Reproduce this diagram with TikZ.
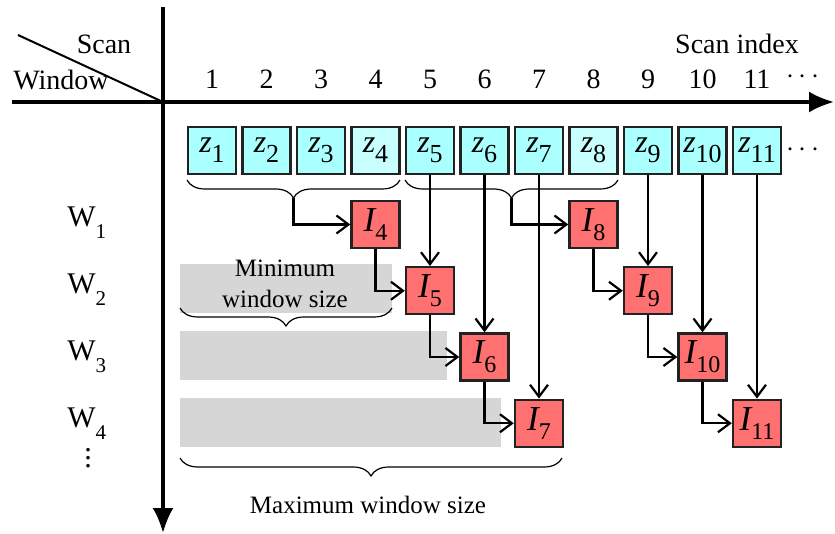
\documentclass[tikz,border=0pt]{standalone}
\usepackage{fontspec}
\setmainfont{Liberation Serif}
\usetikzlibrary{arrows.meta, decorations.pathreplacing, positioning}

\definecolor{zcyan}{HTML}{AAFFFF}
\definecolor{zlight}{HTML}{C8FFFF}
\definecolor{ired}{HTML}{FF7070}
\definecolor{wingray}{HTML}{D6D6D6}
\definecolor{boxline}{HTML}{222222}

\newcommand{\zlab}[1]{{\fontsize{16}{16}\selectfont\itshape z}\raisebox{-5pt}{\fontsize{13}{13}\selectfont #1}}
\newcommand{\ilab}[1]{{\fontsize{17.5}{17.5}\selectfont\itshape I}\raisebox{-4.5pt}{\fontsize{12}{12}\selectfont #1}}
\newcommand{\wlab}[1]{W\raisebox{-6pt}{\fontsize{10.5}{10.5}\selectfont #1}}
\newcommand{\wdotsv}{\vbox{\baselineskip4pt\lineskiplimit0pt\hbox{.}\hbox{.}\hbox{.}}}

\begin{document}
\begin{tikzpicture} [
       x=0.5pt, y=-0.5pt,
       axis/.style={line width=1.6pt, -{Latex[length=12.5pt, width=10.5pt]}},
       axtext/.style={font=\fontsize{14}{14}\selectfont, inner sep=0pt},
       wtext/.style={font=\fontsize{15}{15}\selectfont, inner sep=0pt},
       sizetext/.style={font=\fontsize{12.5}{12.5}\selectfont, inner sep=0pt},
       zbox/.style={draw=boxline, line width=1.2pt, minimum width=24pt,
               minimum height=23.5pt, inner sep=0pt},
       ibox/.style={zbox, fill=ired},
       conn/.style={draw, line width=1.1pt, -{Straight Barb[length=6pt, width=9pt]}},
       brace/.style={decorate, decoration={brace, mirror, amplitude=9pt}, line width=0.6pt},
       ]
       \useasboundingbox (0,0) rectangle (835,534);
       % window bars
       \fill[wingray] (180,264) rectangle (392,313);
       \fill[wingray] (180,331) rectangle (447,380);
       \fill[wingray] (180,398) rectangle (501,447);
       % axes
       \coordinate (origin) at (163,102);
       \draw[axis] (12,102) -- (834,102);
       \draw[axis] (163,7) -- (163,533);
       \draw[line width=1pt] (18,35) -- (origin);
       \node (scan) [axtext, anchor=base] at (104,54) {Scan};
       \node (window) [axtext, anchor=base west] at (13,90) {Window};
       \node (scanidx) [axtext, anchor=base] at (737,54) {Scan index};
       \foreach \i in {1,...,11}
           \node (n\i) [axtext, anchor=base] at ({212+54.5*(\i-1)},89) {\i};
       \node (ndots) [axtext, anchor=base] at (803,84) {$\cdots$};
       % scans
       \foreach \i/\c in {1/zcyan,2/zcyan,3/zcyan,4/zlight,5/zcyan,6/zcyan,
               7/zcyan,8/zlight,9/zcyan,10/zcyan,11/zcyan}
           \node (z\i) [zbox, fill=\c] at ({212+54.5*(\i-1)},150.5) {\zlab{\i}};
       \node (zdots) [axtext, anchor=base] at (803,157) {$\cdots$};
       % windows
       \node (w1) [wtext, anchor=base west] at (67,227) {\wlab{1}};
       \node (w2) [wtext, anchor=base west] at (67,293) {\wlab{2}};
       \node (w3) [wtext, anchor=base west] at (67,360) {\wlab{3}};
       \node (w4) [wtext, anchor=base west] at (67,427) {\wlab{4}};
       \node (wdots) [wtext, anchor=south] at (88,468) {\wdotsv};
       % estimates
       \node (I4) [ibox] at (375.5,224.5) {\ilab{4}};
       \node (I5) [ibox] at (430,290.75) {\ilab{5}};
       \node (I6) [ibox] at (484.5,357) {\ilab{6}};
       \node (I7) [ibox] at (539,423.25) {\ilab{7}};
       \node (I8) [ibox] at (593.5,224.5) {\ilab{8}};
       \node (I9) [ibox] at (648,290.75) {\ilab{9}};
       \node (I10) [ibox] at (702.5,357) {\ilab{10}};
       \node (I11) [ibox] at (757,423.25) {\ilab{11}};
       % braces
       \draw[brace] (187,180) -- (400,180);
       \draw[brace] (405,180) -- (618,180);
       \draw[brace] (180,308) -- (392,308);
       \draw[brace] (180,458) -- (562,458);
       \coordinate (b1) at (293.5,198);
       \coordinate (b2) at (511.5,198);
       \node (minA) [sizetext, anchor=base] at (285,277) {Minimum};
       \node (minB) [sizetext, anchor=base] at (285,307) {window size};
       \node (maxlab) [sizetext, anchor=base] at (368,513) {Maximum window size};
       % connectors
       \draw[conn] (b1) |- (I4);
       \draw[conn] (b2) |- (I8);
       \draw[conn] (z5) -- (I5);
       \draw[conn] (z6) -- (I6);
       \draw[conn] (z7) -- (I7);
       \draw[conn] (z9) -- (I9);
       \draw[conn] (z10) -- (I10);
       \draw[conn] (z11) -- (I11);
       \draw[conn] (I4) |- (I5);
       \draw[conn] (I5) |- (I6);
       \draw[conn] (I6) |- (I7);
       \draw[conn] (I8) |- (I9);
       \draw[conn] (I9) |- (I10);
       \draw[conn] (I10) |- (I11);
\end{tikzpicture}
\end{document}
